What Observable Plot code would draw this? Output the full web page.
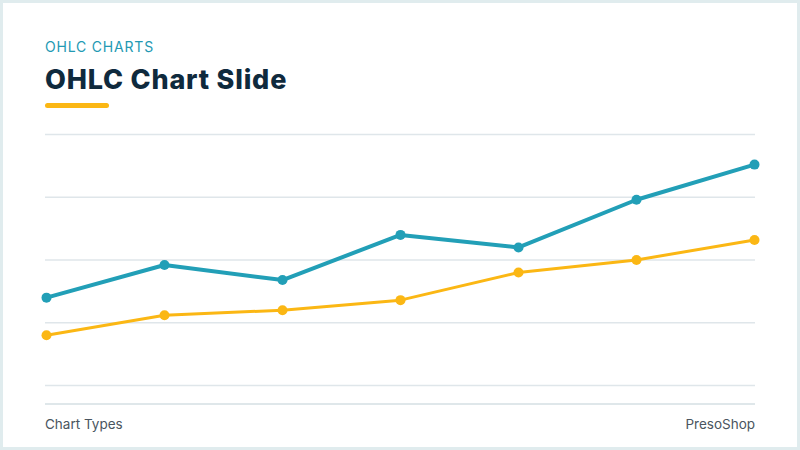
<!DOCTYPE html>
<html>
<head>
<meta charset="utf-8">
<script src="https://cdn.jsdelivr.net/npm/d3@7"></script>
<script src="https://cdn.jsdelivr.net/npm/@observablehq/plot@0.6"></script>
<style>
  html, body { margin: 0; padding: 0; background: #fff; }
  #frame {
    position: relative; width: 800px; height: 450px; box-sizing: border-box;
    border: 3px solid #e0ecee; background: #fff; overflow: hidden;
    font-family: Inter, "Open Sans", sans-serif;
  }
  #sub { position: absolute; left: 42px; top: 35px; font-size: 14px; color: #2399b3; letter-spacing: 0.8px; }
  #title { position: absolute; left: 42px; top: 60px; font-size: 27px; font-weight: 800; color: #0f2a3d; letter-spacing: 0.8px; }
  #bar { position: absolute; left: 42px; top: 100px; width: 64px; height: 5px; border-radius: 3px; background: #fbb714; }
  #chart { position: absolute; left: -3px; top: 114px; width: 800px; }
  #chart svg { max-width: none !important; }
  #footline { position: absolute; left: 42px; top: 400px; width: 710px; height: 2px; background: #dfe7ea; }
  #fl, #fr { position: absolute; top: 413px; font-size: 13.5px; color: #4a5560; }
  #fl { left: 42px; }
  #fr { right: 42px; }
</style>
</head>
<body>
<div id="frame">
  <div id="sub">OHLC CHARTS</div>
  <div id="title">OHLC Chart Slide</div>
  <div id="bar"></div>
  <div id="chart"></div>
  <div id="footline"></div>
  <div id="fl">Chart Types</div>
  <div id="fr">PresoShop</div>
</div>
<script>
const periods = ["P1", "P2", "P3", "P4", "P5", "P6", "P7"];
const tealValues = [35, 48, 42, 60, 55, 74, 88];
const yellowValues = [20, 28, 30, 34, 45, 50, 58];
const yTicks = [0, 25, 50, 75, 100];

const teal = periods.map((p, i) => ({period: p, value: tealValues[i]}));
const yellow = periods.map((p, i) => ({period: p, value: yellowValues[i]}));

const chart = Plot.plot({
  width: 800,
  height: 283,
  marginLeft: 45,
  marginRight: 45,
  marginTop: 17,
  marginBottom: 15,
  x: {type: "point", domain: periods, padding: 0, axis: null},
  y: {domain: [0, 100], axis: null},
  style: {background: "transparent", overflow: "visible", maxWidth: "none"},
  marks: [
    Plot.ruleY(yTicks, {stroke: "#dfe6ea", strokeWidth: 1.5, strokeOpacity: 1}),
    Plot.line(yellow, {x: "period", y: "value", stroke: "#fbb714", strokeWidth: 3}),
    Plot.dot(yellow, {x: "period", y: "value", fill: "#fbb714", r: 5}),
    Plot.line(teal, {x: "period", y: "value", stroke: "#229fb7", strokeWidth: 4}),
    Plot.dot(teal, {x: "period", y: "value", fill: "#229fb7", r: 5})
  ]
});
document.getElementById("chart").appendChild(chart);
</script>
</body>
</html>
